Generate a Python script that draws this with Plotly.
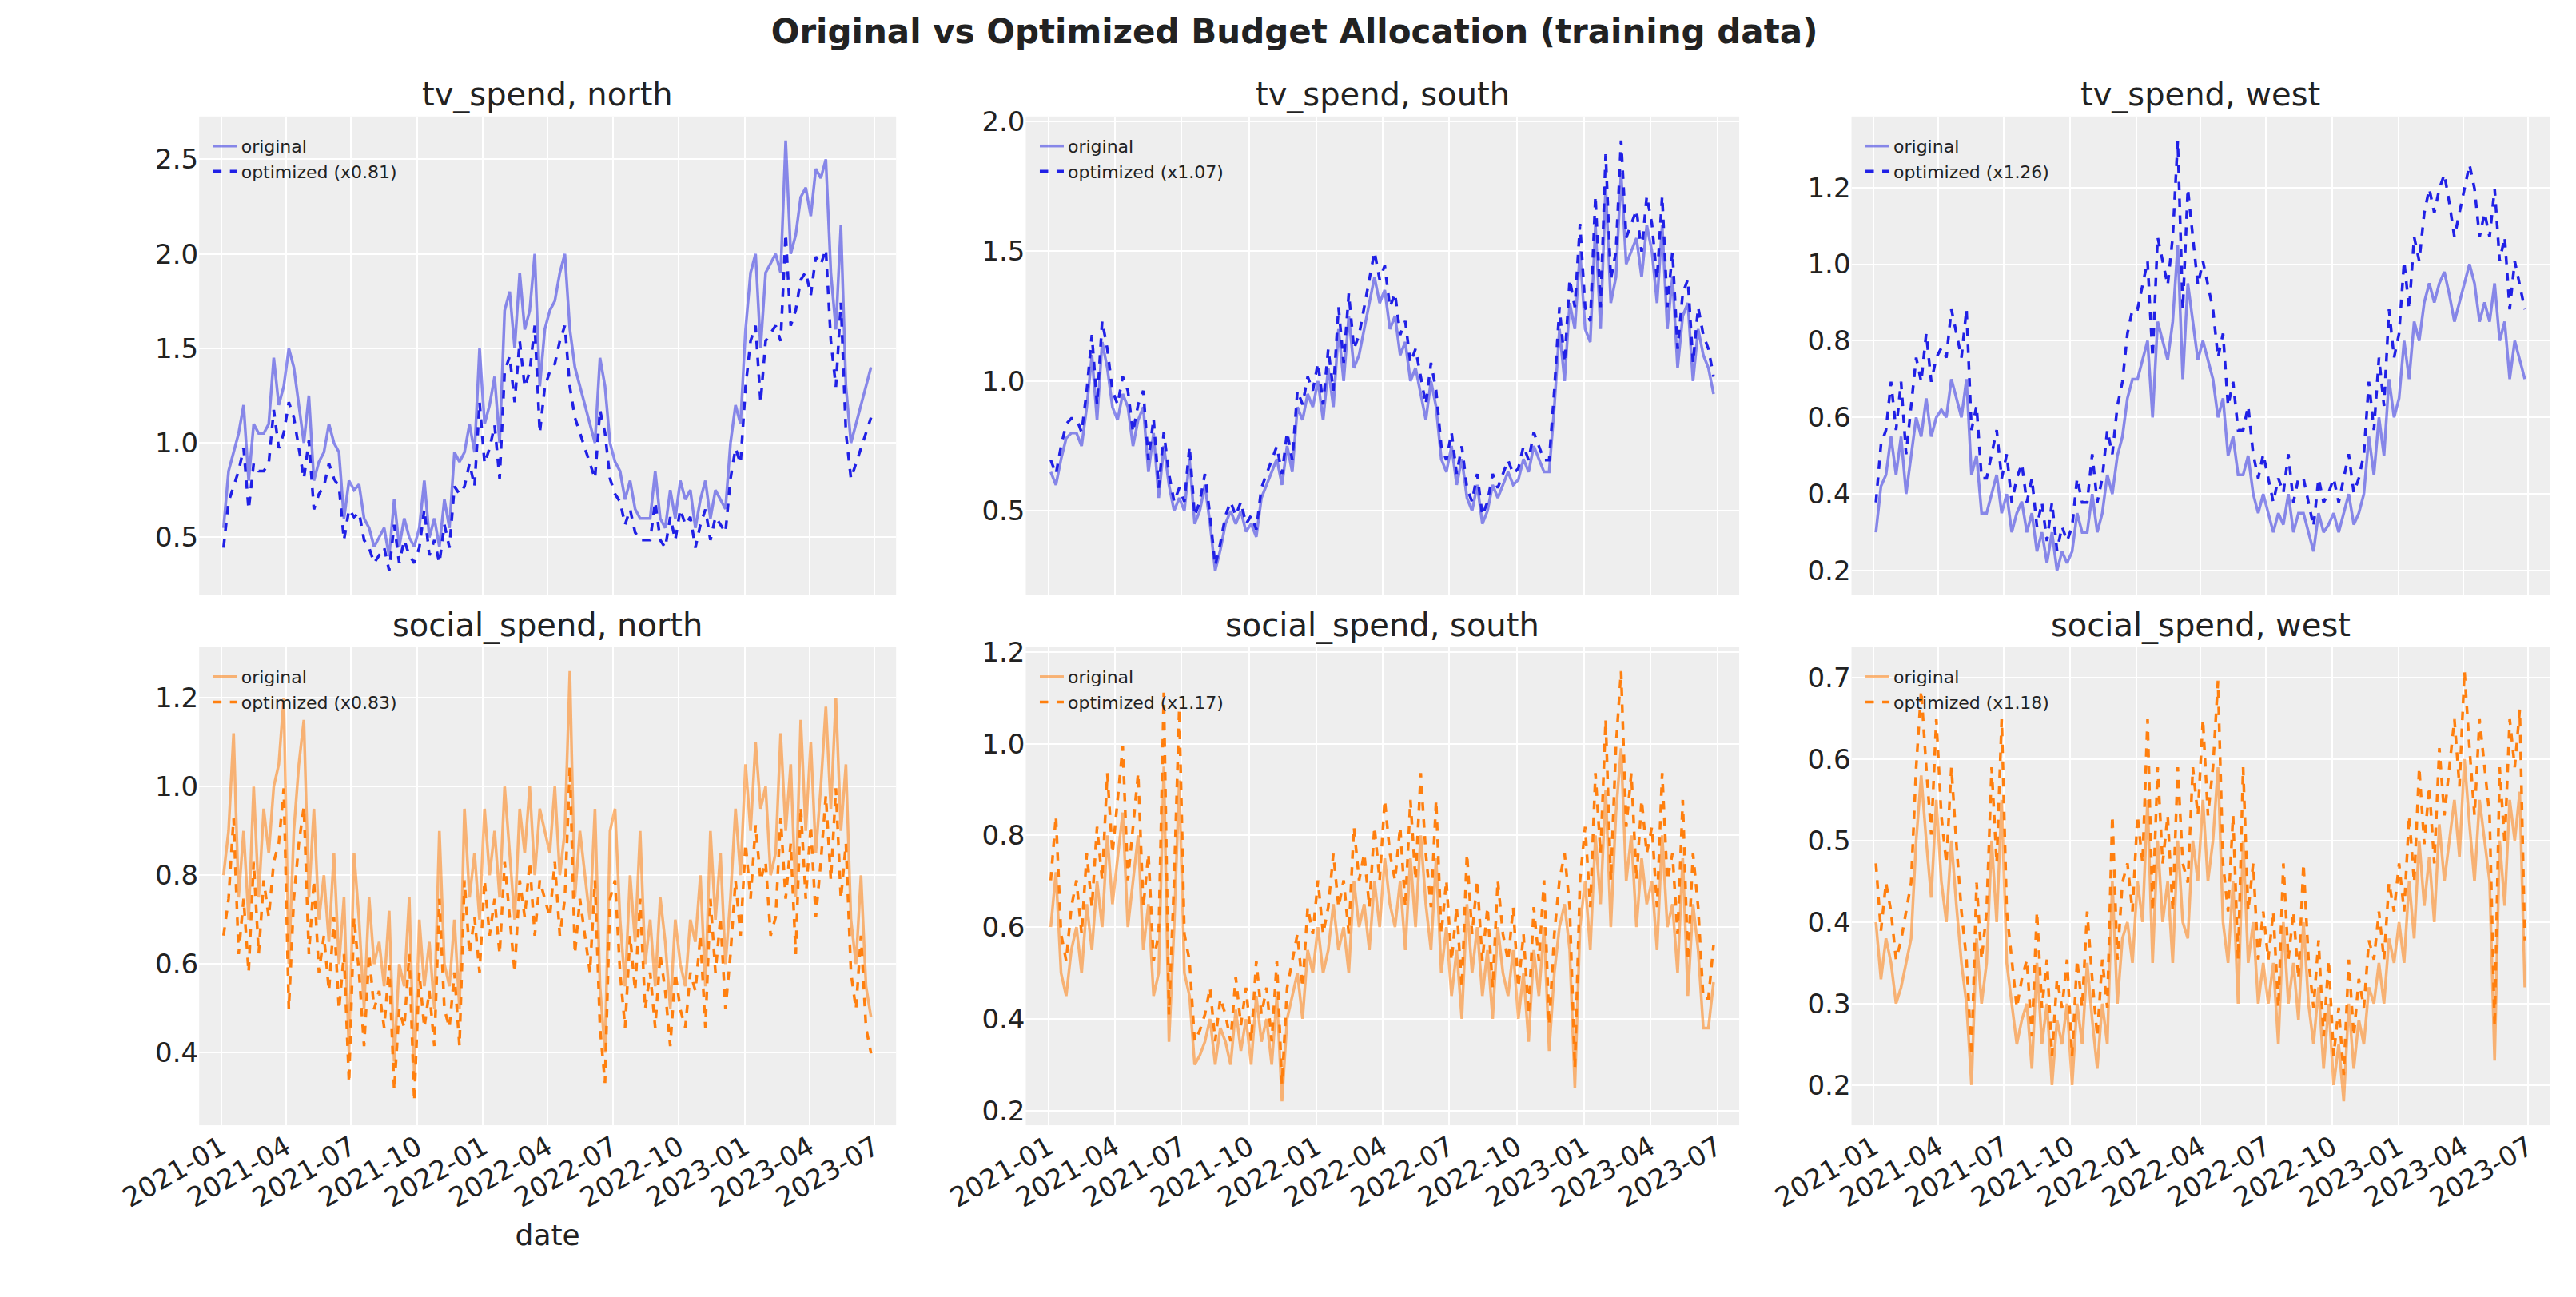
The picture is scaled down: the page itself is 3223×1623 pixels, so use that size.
import pandas as pd
import plotly.graph_objects as go

tv_north = [0.55,0.85,0.95,1.05,1.2,0.8,1.1,1.05,1.05,1.1,1.45,1.2,1.3,
 1.5,1.4,1.2,1.0,1.25,0.8,0.9,0.95,1.1,1.0,0.95,0.6,0.8,
 0.75,0.78,0.6,0.55,0.45,0.5,0.55,0.4,0.7,0.45,0.6,0.5,0.45,
 0.55,0.8,0.5,0.6,0.45,0.7,0.55,0.95,0.9,0.95,1.1,0.95,1.5,
 1.1,1.2,1.35,1.0,1.7,1.8,1.5,1.9,1.6,1.7,2.0,1.3,1.6,
 1.7,1.75,1.9,2.0,1.6,1.4,1.3,1.2,1.1,1.0,1.45,1.3,1.0,
 0.9,0.85,0.7,0.8,0.65,0.6,0.6,0.6,0.85,0.6,0.55,0.75,0.6,
 0.8,0.7,0.75,0.55,0.7,0.8,0.6,0.75,0.7,0.65,1.0,1.2,1.1,
 1.6,1.9,2.0,1.5,1.9,1.95,2.0,1.9,2.6,2.0,2.1,2.3,2.35,
 2.2,2.45,2.4,2.5,1.9,1.6,2.15,1.3,1.0,1.1,1.2,1.3,1.4]
tv_south = [0.65,0.6,0.7,0.78,0.8,0.8,0.75,0.9,1.1,0.85,1.15,1.05,0.9,
 0.85,0.95,0.9,0.75,0.85,0.9,0.65,0.8,0.55,0.75,0.6,0.5,0.55,
 0.5,0.7,0.45,0.5,0.6,0.45,0.27,0.35,0.45,0.5,0.45,0.5,0.42,
 0.45,0.4,0.55,0.6,0.65,0.7,0.6,0.75,0.65,0.9,0.85,0.95,0.9,
 1.0,0.85,1.05,0.9,1.2,1.0,1.25,1.05,1.1,1.2,1.3,1.4,1.3,
 1.35,1.2,1.25,1.1,1.15,1.0,1.05,0.95,0.85,1.0,0.9,0.7,0.65,
 0.75,0.6,0.7,0.55,0.5,0.6,0.45,0.5,0.6,0.55,0.6,0.65,0.6,
 0.62,0.7,0.65,0.75,0.7,0.65,0.65,0.9,1.2,1.0,1.3,1.2,1.5,
 1.2,1.15,1.6,1.2,1.75,1.3,1.4,1.8,1.45,1.5,1.55,1.4,1.6,
 1.5,1.3,1.6,1.2,1.4,1.05,1.25,1.3,1.0,1.2,1.1,1.05,0.95]
tv_west = [0.3,0.42,0.45,0.55,0.45,0.55,0.4,0.5,0.6,0.55,0.65,0.55,0.6,
 0.62,0.6,0.7,0.65,0.6,0.7,0.45,0.5,0.35,0.35,0.4,0.45,0.35,
 0.4,0.3,0.35,0.38,0.3,0.35,0.25,0.3,0.22,0.3,0.2,0.25,0.22,
 0.25,0.35,0.3,0.3,0.4,0.3,0.35,0.45,0.4,0.5,0.55,0.65,0.7,
 0.7,0.75,0.8,0.6,0.85,0.8,0.75,0.85,1.05,0.7,0.95,0.85,0.75,
 0.8,0.75,0.7,0.6,0.65,0.5,0.55,0.45,0.45,0.5,0.4,0.35,0.4,
 0.35,0.3,0.35,0.32,0.4,0.3,0.35,0.35,0.3,0.25,0.35,0.3,0.32,
 0.35,0.3,0.35,0.4,0.32,0.35,0.4,0.55,0.45,0.6,0.5,0.7,0.6,
 0.65,0.8,0.7,0.85,0.8,0.9,0.95,0.9,0.95,0.98,0.92,0.85,0.9,
 0.95,1.0,0.95,0.85,0.9,0.85,0.95,0.8,0.85,0.7,0.8,0.75,0.7]
social_north = [0.8,0.9,1.12,0.75,0.9,0.7,1.0,0.75,0.95,0.85,1.0,1.05,1.2,
 0.6,0.9,1.05,1.15,0.75,0.95,0.7,0.8,0.65,0.85,0.6,0.75,0.4,
 0.85,0.7,0.5,0.75,0.6,0.65,0.55,0.72,0.38,0.6,0.55,0.75,0.35,
 0.7,0.55,0.65,0.5,0.9,0.6,0.55,0.7,0.5,0.95,0.75,0.85,0.7,
 0.95,0.8,0.9,0.75,1.0,0.85,0.7,0.95,0.85,1.0,0.8,0.95,0.9,
 0.85,1.0,0.8,0.9,1.26,0.75,0.9,0.8,0.7,0.95,0.55,0.4,0.9,
 0.95,0.7,0.55,0.8,0.65,0.9,0.6,0.7,0.55,0.75,0.65,0.5,0.7,
 0.6,0.55,0.7,0.65,0.8,0.55,0.9,0.7,0.85,0.6,0.75,0.95,0.8,
 1.05,0.9,1.1,0.95,1.0,0.8,0.85,1.12,0.9,1.05,0.75,1.15,0.9,
 1.1,0.85,1.0,1.18,0.95,1.2,0.9,1.05,0.7,0.6,0.8,0.55,0.48]
social_south = [0.6,0.72,0.5,0.45,0.55,0.6,0.5,0.65,0.55,0.7,0.6,0.8,0.65,
 0.75,0.85,0.6,0.7,0.8,0.55,0.65,0.45,0.5,0.95,0.35,0.6,0.92,
 0.5,0.45,0.3,0.32,0.35,0.4,0.3,0.38,0.35,0.3,0.42,0.33,0.4,
 0.3,0.45,0.35,0.4,0.3,0.45,0.22,0.4,0.45,0.5,0.4,0.55,0.5,
 0.6,0.5,0.55,0.65,0.55,0.6,0.5,0.7,0.6,0.65,0.55,0.7,0.6,
 0.75,0.65,0.6,0.7,0.55,0.75,0.6,0.8,0.65,0.55,0.75,0.5,0.6,
 0.45,0.55,0.4,0.65,0.5,0.6,0.45,0.55,0.4,0.6,0.5,0.45,0.55,
 0.4,0.5,0.35,0.55,0.45,0.6,0.33,0.5,0.6,0.65,0.55,0.25,0.6,
 0.7,0.55,0.8,0.65,0.9,0.6,0.85,0.99,0.7,0.8,0.6,0.75,0.65,
 0.7,0.55,0.8,0.6,0.65,0.5,0.75,0.45,0.65,0.55,0.38,0.38,0.48]
social_west = [0.4,0.33,0.38,0.35,0.3,0.32,0.35,0.38,0.5,0.58,0.5,0.43,0.55,
 0.45,0.4,0.5,0.42,0.35,0.3,0.2,0.38,0.3,0.35,0.5,0.4,0.55,
 0.35,0.3,0.25,0.28,0.3,0.22,0.35,0.25,0.3,0.2,0.28,0.25,0.3,
 0.2,0.3,0.25,0.35,0.28,0.22,0.3,0.25,0.45,0.3,0.38,0.4,0.35,
 0.45,0.4,0.55,0.35,0.5,0.4,0.45,0.35,0.5,0.4,0.38,0.5,0.45,
 0.55,0.45,0.5,0.59,0.4,0.35,0.45,0.3,0.5,0.35,0.4,0.3,0.35,
 0.3,0.35,0.25,0.4,0.3,0.35,0.28,0.4,0.3,0.25,0.32,0.22,0.3,
 0.2,0.25,0.18,0.3,0.22,0.28,0.25,0.32,0.3,0.35,0.3,0.38,0.35,
 0.4,0.35,0.45,0.38,0.5,0.42,0.48,0.4,0.52,0.45,0.5,0.55,0.48,
 0.6,0.52,0.45,0.55,0.5,0.45,0.23,0.5,0.42,0.55,0.5,0.56,0.32]

factors = [0.81, 1.07, 1.26, 0.83, 1.17, 1.18]
titles = ["tv_spend, north", "tv_spend, south", "tv_spend, west",
          "social_spend, north", "social_spend, south", "social_spend, west"]
series = [tv_north, tv_south, tv_west, social_north, social_south, social_west]
y_dticks = [0.5, 0.5, 0.2, 0.2, 0.2, 0.1]
tick_dates = pd.date_range("2021-01-01", "2023-07-01", freq="QS")
tick_labels = [d.strftime("%Y-%m") for d in tick_dates]

xdom = [(0.0446, 0.324), (0.376, 0.662), (0.707, 0.987)]
ydom = [(0.551, 0.923), (0.138, 0.510)]

fig = go.Figure()
F = "DejaVu Sans"
for i, (vals, fac, title) in enumerate(zip(series, factors, titles)):
    r, c = divmod(i, 3)
    n = i + 1
    sfx = "" if n == 1 else str(n)
    dates = pd.date_range("2021-01-04", periods=len(vals), freq="7D")
    opt = [v * fac for v in vals]
    if r == 0:
        oc, pc = "rgba(30,30,225,0.5)", "#2020e6"
    else:
        oc, pc = "rgba(255,127,14,0.55)", "#ff7f0e"
    lg = "legend" + sfx
    fig.add_trace(go.Scatter(x=dates, y=vals, mode="lines", name="original",
        line=dict(color=oc, width=3.5), xaxis="x" + sfx, yaxis="y" + sfx, legend=lg))
    fig.add_trace(go.Scatter(x=dates, y=opt, mode="lines", name=f"optimized (x{fac:.2f})",
        line=dict(color=pc, width=3.5, dash="dash"), xaxis="x" + sfx, yaxis="y" + sfx, legend=lg))
    xa = dict(domain=xdom[c], anchor="y" + sfx, showgrid=True, gridcolor="white", gridwidth=2,
              zeroline=False, tickvals=list(tick_dates), ticktext=tick_labels,
              tickangle=-30, tickfont=dict(size=34, color="#222"),
              range=[pd.Timestamp("2020-12-01"), pd.Timestamp("2023-07-31")],
              showticklabels=(r == 1), ticks="")
    if r == 0:
        xa["matches"] = "x" + str(n + 3)
    if i == 3:
        xa["title"] = dict(text="date", font=dict(size=36, color="#222"))
    ya = dict(domain=ydom[r], anchor="x" + sfx, showgrid=True, gridcolor="white", gridwidth=2,
              zeroline=False, tickfont=dict(size=34, color="#222"), ticks="",
              dtick=y_dticks[i], tickformat=".1f")
    fig.layout["xaxis" + sfx] = xa
    fig.layout["yaxis" + sfx] = ya
    fig.layout[lg] = dict(x=xdom[c][0] + 0.004, y=ydom[r][1] - 0.01, xanchor="left", yanchor="top",
                          bgcolor="rgba(0,0,0,0)", font=dict(size=22, color="#222"))
    fig.add_annotation(text=title, x=(xdom[c][0] + xdom[c][1]) / 2, y=ydom[r][1],
                       xref="paper", yref="paper", xanchor="center", yanchor="bottom",
                       showarrow=False, font=dict(size=40, color="#222"), yshift=2)

fig.update_layout(width=3223, height=1623, paper_bgcolor="white", plot_bgcolor="#eeeeee",
                  font=dict(family=F, color="#222"), margin=dict(l=0, r=0, t=0, b=0),
                  title=dict(text="<b>Original vs Optimized Budget Allocation (training data)</b>",
                             x=0.5, xanchor="center", y=0.99, yanchor="top",
                             font=dict(size=42, color="#222")))
fig.write_html("out.html")
